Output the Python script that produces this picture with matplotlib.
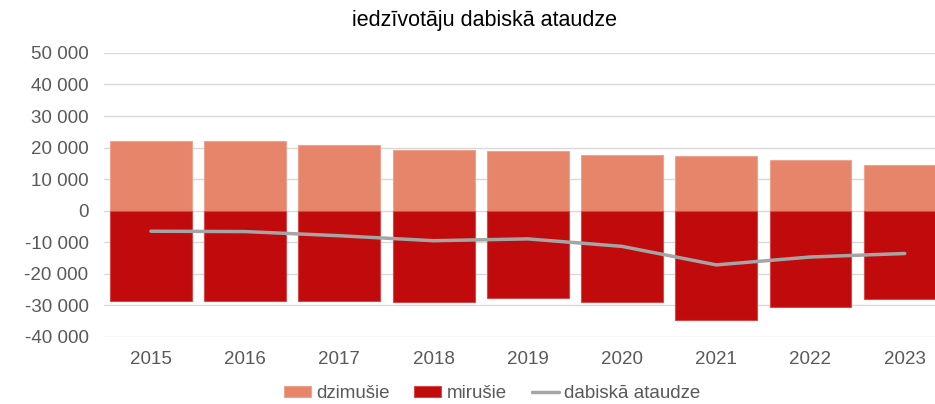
import matplotlib.pyplot as plt
from matplotlib.ticker import FuncFormatter, MultipleLocator
import numpy as np

plt.rcParams['font.family'] = ['Liberation Sans', 'DejaVu Sans']

years = ['2015', '2016', '2017', '2018', '2019', '2020', '2021', '2022', '2023']
dzimusie = [21979, 21968, 20828, 19314, 18786, 17552, 17428, 15954, 14490]
mirusie = [-28478, -28580, -28757, -28820, -27719, -28854, -34601, -30623, -28050]
ataudze = [-6499, -6612, -7929, -9506, -8933, -11302, -17173, -14669, -13560]

txt_col = '#595959'

fig = plt.figure(figsize=(9.35, 4.04), dpi=100)
ax = fig.add_axes([0.111, 0.166, 0.907, 0.703])

x = np.arange(len(years))
b1 = ax.bar(x, dzimusie, width=0.87, color='#E6856A', edgecolor='#EDA48F', linewidth=0.8,
            label='dzimušie', zorder=2)
b2 = ax.bar(x, mirusie, width=0.87, color='#C00A0B', edgecolor='#D44A4A', linewidth=0.8,
            label='mirušie', zorder=2)
ln, = ax.plot(x, ataudze, color='#A5A5A5', linewidth=2.5, label='dabiskā ataudze', zorder=3,
              solid_capstyle='round')

ax.set_xlim(-0.5, len(years) - 0.5)
ax.set_ylim(-40000, 50000)
ax.yaxis.set_major_locator(MultipleLocator(10000))
ax.yaxis.set_major_formatter(FuncFormatter(lambda v, p: f"{int(v):,}".replace(",", " ")))
ax.set_xticks(x)
ax.set_xticklabels(years)
ax.grid(axis='y', color='#D9D9D9', linewidth=1, zorder=0)
ax.set_axisbelow(True)
for s in ax.spines.values():
    s.set_visible(False)
ax.tick_params(axis='both', length=0, labelsize=13.5, labelcolor=txt_col)
ax.tick_params(axis='y', pad=11)
ax.tick_params(axis='x', pad=10)

fig.text(0.518, 0.95, 'iedzīvotāju dabiskā ataudze', ha='center', va='center',
         fontsize=15.5, color='black')

fig.legend([b1, b2, ln], ['dzimušie', 'mirušie', 'dabiskā ataudze'],
           loc='center', bbox_to_anchor=(0.526, 0.025), ncol=3, frameon=False,
           fontsize=13.5, labelcolor=txt_col, handlelength=1.45, handleheight=0.5,
           columnspacing=1.33, handletextpad=0.27)

fig.savefig('out.png', dpi=100)
